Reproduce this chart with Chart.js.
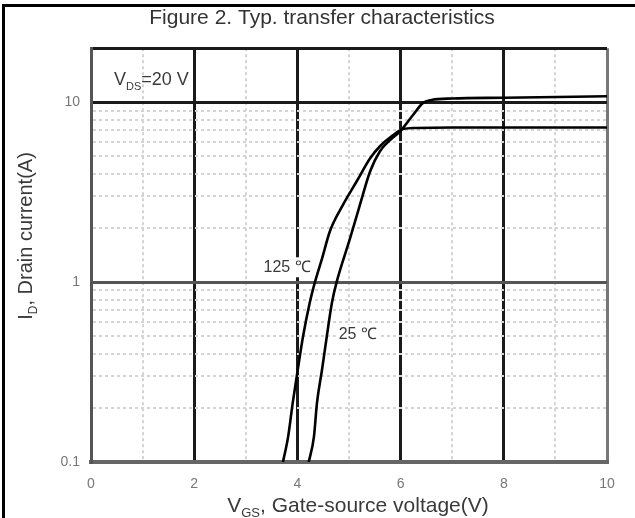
<!DOCTYPE html>
<html>
<head>
<meta charset="utf-8">
<script src="https://cdn.jsdelivr.net/npm/chart.js@4.4.1/dist/chart.umd.min.js"></script>
<style>
  html, body { margin: 0; padding: 0; background: #fff; }
  #wrap { position: relative; width: 635px; height: 518px; overflow: hidden; }
  #frame { position: absolute; left: 2px; top: 4px; width: 640px; height: 600px;
           border-top: 3px solid #000; border-left: 3px solid #000; pointer-events: none; }
  canvas { display: block; }
</style>
</head>
<body>
<div id="wrap">
  <canvas id="c" width="635" height="518"></canvas>
  <div id="frame"></div>
</div>
<script>
// ---- data ----
const titleText = 'Figure 2. Typ. transfer characteristics';
const series125Label = '125 ℃';
const series25Label = '25 ℃';
const vgs125 = [3.72, 3.82, 3.91, 4.01, 4.11, 4.24, 4.34, 4.48, 4.63, 4.88, 5.15, 5.41, 5.60, 5.85, 6.05, 6.30, 7.0, 8.0, 10.0];
const id125  = [0.10, 0.138, 0.214, 0.33, 0.50, 0.77, 1.00, 1.36, 1.92, 2.68, 3.64, 4.89, 5.70, 6.56, 7.10, 7.20, 7.25, 7.25, 7.25];
const vgs25  = [4.22, 4.32, 4.38, 4.48, 4.57, 4.67, 4.76, 5.02, 5.21, 5.41, 5.60, 5.79, 5.99, 6.24, 6.43, 6.60, 7.0, 8.0, 10.0];
const id25   = [0.10, 0.138, 0.214, 0.33, 0.50, 0.77, 1.00, 1.75, 2.68, 4.14, 5.35, 6.15, 6.90, 8.50, 9.90, 10.3, 10.5, 10.6, 10.8];
const xTickValues = [0, 1, 2, 3, 4, 5, 6, 7, 8, 9, 10];
const xTickLabels = ['0', '', '2', '', '4', '', '6', '', '8', '', '10'];
const yTickValues = [0.1, 0.2, 0.3, 0.4, 0.5, 0.6, 0.7, 0.8, 0.9, 1, 2, 3, 4, 5, 6, 7, 8, 9, 10, 20];
const yTickLabels = ['0.1', '', '', '', '', '', '', '', '', '1', '', '', '', '', '', '', '', '', '10', ''];
const xTitleMain = 'V';
const xTitleSub = 'GS';
const xTitleRest = ', Gate-source voltage(V)';
const yTitleMain = 'I';
const yTitleSub = 'D';
const yTitleRest = ', Drain current(A)';
const condMain = 'V';
const condSub = 'DS';
const condRest = '=20 V';

const toPts = (xs, ys) => xs.map((x, i) => ({ x: x, y: ys[i] }));
const FONT = '"Liberation Sans", Arial, sans-serif';

function isMajorY(v) { return [0.1, 1, 10, 20].some(m => Math.abs(v - m) < 1e-9); }
function isMajorX(v) { return v % 2 === 0; }

const textPlugin = {
  id: 'texts',
  afterDraw(chart) {
    const ctx = chart.ctx;
    const xs = chart.scales.x, ys = chart.scales.y;
    ctx.save();
    function drawSub(x, y, main, sub, rest, size, color, align) {
      ctx.fillStyle = color;
      ctx.textBaseline = 'alphabetic';
      ctx.font = size + 'px ' + FONT;
      const wm = ctx.measureText(main).width;
      const wr = ctx.measureText(rest).width;
      ctx.font = Math.round(size * 0.62) + 'px ' + FONT;
      const ws = ctx.measureText(sub).width;
      const total = wm + ws + wr;
      const sx = align === 'center' ? x - total / 2 : x;
      ctx.font = size + 'px ' + FONT;
      ctx.textAlign = 'left';
      ctx.fillText(main, sx, y);
      ctx.font = Math.round(size * 0.62) + 'px ' + FONT;
      ctx.fillText(sub, sx + wm, y + size * 0.25);
      ctx.font = size + 'px ' + FONT;
      ctx.fillText(rest, sx + wm + ws, y);
    }
    // x axis title
    drawSub(358, 512, xTitleMain, xTitleSub, xTitleRest, 21, '#3a3a3a', 'center');
    // y axis title (rotated)
    ctx.save();
    ctx.translate(32, 236);
    ctx.rotate(-Math.PI / 2);
    drawSub(0, 0, yTitleMain, yTitleSub, yTitleRest, 20, '#3a3a3a', 'center');
    ctx.restore();
    // condition text
    drawSub(114, 85, condMain, condSub, condRest, 18, '#3a3a3a', 'left');
    // temperature labels with white background
    function label(txt, vx, vy) {
      const px = xs.getPixelForValue(vx), py = ys.getPixelForValue(vy);
      ctx.font = '16px ' + FONT;
      const w = ctx.measureText(txt).width;
      ctx.fillStyle = '#fff';
      ctx.fillRect(px - w / 2 - 3, py - 10, w + 6, 20);
      ctx.fillStyle = '#3a3a3a';
      ctx.textAlign = 'center';
      ctx.textBaseline = 'middle';
      ctx.fillText(txt, px, py);
    }
    label(series125Label, 3.8, 1.21);
    label(series25Label, 5.17, 0.51);
    ctx.restore();
  }
};

new Chart(document.getElementById('c'), {
  type: 'line',
  data: {
    datasets: [
      { label: series125Label, data: toPts(vgs125, id125), borderColor: '#000', borderWidth: 2.6,
        pointRadius: 0, cubicInterpolationMode: 'monotone', fill: false },
      { label: series25Label, data: toPts(vgs25, id25), borderColor: '#000', borderWidth: 2.6,
        pointRadius: 0, cubicInterpolationMode: 'monotone', fill: false }
    ]
  },
  options: {
    responsive: false,
    animation: false,
    layout: { padding: { left: 37, right: 28, top: 0, bottom: 0 } },
    plugins: {
      legend: { display: false },
      tooltip: { enabled: false },
      title: {
        display: true, text: titleText, color: '#333',
        font: { family: FONT, size: 21, weight: 'normal' },
        padding: { top: 6, bottom: 17 }
      }
    },
    scales: {
      x: {
        type: 'linear', min: 0, max: 10,
        afterBuildTicks: s => { s.ticks = xTickValues.map(v => ({ value: v })); },
        afterFit: s => { s.height = 56; },
        ticks: {
          color: '#777', font: { family: FONT, size: 14 }, padding: 14, maxRotation: 0, autoSkip: false,
          callback: (v) => { const i = xTickValues.indexOf(v); return i >= 0 ? xTickLabels[i] : ''; }
        },
        grid: {
          drawTicks: false,
          color: c => { const v = c.tick ? c.tick.value : 0; if (v === 10) return '#777'; return isMajorX(v) ? '#1a1a1a' : '#d4d4d4'; },
          lineWidth: c => { const v = c.tick ? c.tick.value : 0; return isMajorX(v) ? 3 : 2; }
        },
        border: {
          display: true, color: '#666', width: 4,
          dash: c => { const v = c.tick ? c.tick.value : 0; return isMajorX(v) ? [] : [3, 3]; }
        }
      },
      y: {
        type: 'logarithmic', min: 0.1, max: 20,
        afterBuildTicks: s => { s.ticks = yTickValues.map(v => ({ value: v })); },
        afterFit: s => { s.width = 54; },
        ticks: {
          color: '#777', font: { family: FONT, size: 14 }, padding: 11, autoSkip: false,
          callback: (v) => { const i = yTickValues.findIndex(t => Math.abs(t - v) < 1e-9); return i >= 0 ? yTickLabels[i] : ''; }
        },
        grid: {
          drawTicks: false,
          color: c => { const v = c.tick ? c.tick.value : 0.5; if (Math.abs(v - 1) < 1e-9) return '#555'; return isMajorY(v) ? '#1a1a1a' : '#d4d4d4'; },
          lineWidth: c => { const v = c.tick ? c.tick.value : 0.5; return isMajorY(v) ? 3 : 2; }
        },
        border: {
          display: true, color: '#555', width: 3,
          dash: c => { const v = c.tick ? c.tick.value : 0.5; return isMajorY(v) ? [] : [3, 3]; }
        }
      }
    }
  },
  plugins: [textPlugin]
});
</script>
</body>
</html>
